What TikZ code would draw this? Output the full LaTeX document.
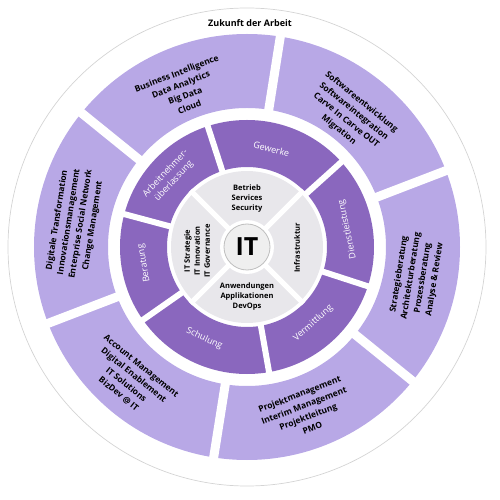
\documentclass[tikz,border=0pt]{standalone}
\usepackage{fontspec}
\setmainfont{Open Sans}
\definecolor{lightp}{HTML}{B8A8E6}
\definecolor{darkp}{HTML}{8A67BE}
\definecolor{ringgray}{HTML}{E8E7EB}
\definecolor{itgray}{HTML}{EFEFEF}
\definecolor{circgray}{HTML}{D4D4D4}
\begin{document}
\begin{tikzpicture}[x=1pt,y=1pt,
  outertext/.style={font=\fontsize{8.5}{12}\selectfont\bfseries, align=center, text=black, inner sep=0pt},
  midtext/.style={font=\fontsize{9}{11.5}\selectfont, align=center, text=white, inner sep=0pt},
  innertext/.style={font=\fontsize{7.5}{10}\selectfont\bfseries, align=center, inner sep=0pt},
  gapout/.style={white, line width=9pt},
  gapmid/.style={white, line width=6pt},
  gapin/.style={white, line width=5pt}]
\useasboundingbox (-247,-253) rectangle (253,247);
\draw[circgray, line width=0.7pt] (0,0) circle (239);
\fill[lightp, even odd rule] (0,0) circle (213) (0,0) circle (139);
\foreach \a in {21,81,141,201,261,321} \draw[gapout] (\a:130) -- (\a:220);
\fill[darkp, even odd rule] (0,0) circle (127) (0,0) circle (80);
\foreach \a in {165,108,42,-18,-80,-145} \draw[gapmid] (\a:70) -- (\a:132);
\fill[ringgray] (0,0) circle (76);
\foreach \a in {45,135,225,315} \draw[gapin] (0,0) -- (\a:80);
\fill[white] (0,0) circle (27);
\node[circle, draw=black!25, line width=0.8pt, fill=itgray, minimum size=46pt, inner sep=0pt,
      font=\fontsize{25}{28}\selectfont\bfseries] (it) at (0,0) {IT};

\node[font=\fontsize{9}{11}\selectfont\bfseries] (title) at (3,224) {Zukunft der Arbeit};

\node[outertext, rotate=21] (bi) at (-64,157) {Business Intelligence\\Data Analytics\\Big Data\\Cloud};
\node[outertext, rotate=-39] (sw) at (103,131) {Softwareentwicklung\\Softwareintegration\\Carve In Carve OUT\\Migration};
\node[outertext, rotate=81] (sb) at (170,-30) {Strategieberatung\\Architekturberatung\\Prozessberatung\\Analyse \& Review};
\node[outertext, rotate=21] (pm) at (59,-164) {Projektmanagement\\Interim Management\\Projektleitung\\PMO};
\node[outertext, rotate=-39] (am) at (-117,-133) {Account Management\\Digital Enablement\\IT Solutions\\BizDev @ IT};
\node[outertext, rotate=81] (dt) at (-172,24) {Digitale Transformation\\Innovationsmanagement\\Enterprise Social Network\\Change Management};

\node[midtext, rotate=47] (an) at (138:104) {Arbeitnehmer-\\überlassung};
\node[midtext, rotate=-15] (gw) at (76:101) {Gewerke};
\node[midtext, rotate=102] (dl) at (10:102) {Dienstleistung};
\node[midtext, rotate=42] (vm) at (-49:101) {Vermittlung};
\node[midtext, rotate=-25] (sc) at (-115:101) {Schulung};
\node[midtext, rotate=100] (br) at (189:104) {Beratung};

\node[innertext] (bet) at (0,48) {Betrieb\\Services\\Security};
\node[innertext, rotate=90] (inf) at (50,-1) {Infrastruktur};
\node[innertext] (anw) at (0,-50) {Anwendungen\\Applikationen\\DevOps};
\node[innertext, rotate=90] (its) at (-50,-4) {IT Strategie\\IT Innovation\\IT Governance};
\end{tikzpicture}
\end{document}
